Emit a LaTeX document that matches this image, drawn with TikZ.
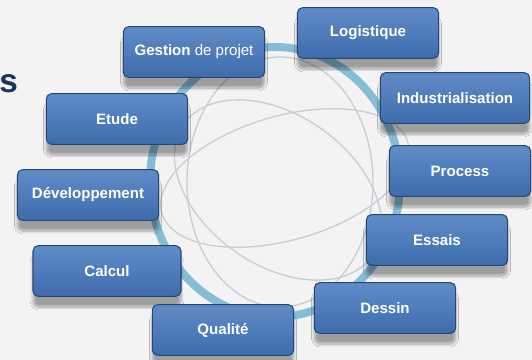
\documentclass[tikz,border=0pt]{standalone}
\usepackage{fontspec}
\setmainfont{Liberation Sans}
\usepackage{tikz}
\usetikzlibrary{shadows,shadows.blur}

\definecolor{fondgris}{RGB}{243,243,243}
\definecolor{bleuhaut}{RGB}{96,140,200}
\definecolor{bleubas}{RGB}{62,108,172}
\definecolor{bleubord}{RGB}{38,70,118}
\definecolor{anneau}{RGB}{134,188,214}
\definecolor{filgris}{RGB}{200,206,212}
\definecolor{marine}{RGB}{26,52,96}

\tikzset{
  bloc/.style={rounded corners=4pt, draw=bleubord, line width=0.8pt,
    top color=bleuhaut, bottom color=bleubas,
    minimum width=106pt, minimum height=38pt, inner sep=2pt,
    text=white, font=\fontsize{11.3}{13}\selectfont\bfseries,
    blur shadow={shadow xshift=0pt, shadow yshift=-8pt, shadow blur steps=10, shadow opacity=35}},
  fil/.style={draw=filgris, line width=1pt}
}

\begin{document}
\begin{tikzpicture}[x=0.75pt,y=0.75pt,yscale=-1,xscale=1]
%set diagram left start at 0, and has height of 360
\fill[fondgris] (0,0) rectangle (532,360);
\useasboundingbox (0,0) rectangle (532,360);

%Shape: Ellipse [wireframe]
\draw[fil] (280,182) ellipse [x radius=93, y radius=125];
\draw[fil, rotate around={-16:(285,178)}] (285,178) ellipse [x radius=128, y radius=62];
\draw[fil, rotate around={35:(278,190)}] (278,190) ellipse [x radius=115, y radius=75];
%Shape: Ellipse [ring]
\draw[draw=anneau, line width=6pt] (275,182) ellipse [x radius=125, y radius=135];

% Text Node
\node[font=\fontsize{25}{28}\selectfont\bfseries, text=marine, anchor=base west, inner sep=0pt] (titre) at (-1,93) {s};

% Text Node
\node[bloc] (gestion) at (194,52) {Gestion \mdseries de projet};
% Text Node
\node[bloc] (logistique) at (368,33) {Logistique};
% Text Node
\node[bloc] (etude) at (117,119) {Etude};
% Text Node
\node[bloc, minimum width=112pt] (indus) at (455,98) {Industrialisation};
% Text Node
\node[bloc] (process) at (460,171) {Process};
% Text Node
\node[bloc] (devel) at (88,195) {Développement};
% Text Node
\node[bloc] (essais) at (437,240) {Essais};
% Text Node
\node[bloc, minimum width=111pt] (calcul) at (107,271) {Calcul};
% Text Node
\node[bloc] (dessin) at (385,308) {Dessin};
% Text Node
\node[bloc] (qualite) at (223,330) {Qualité};
\end{tikzpicture}
\end{document}
